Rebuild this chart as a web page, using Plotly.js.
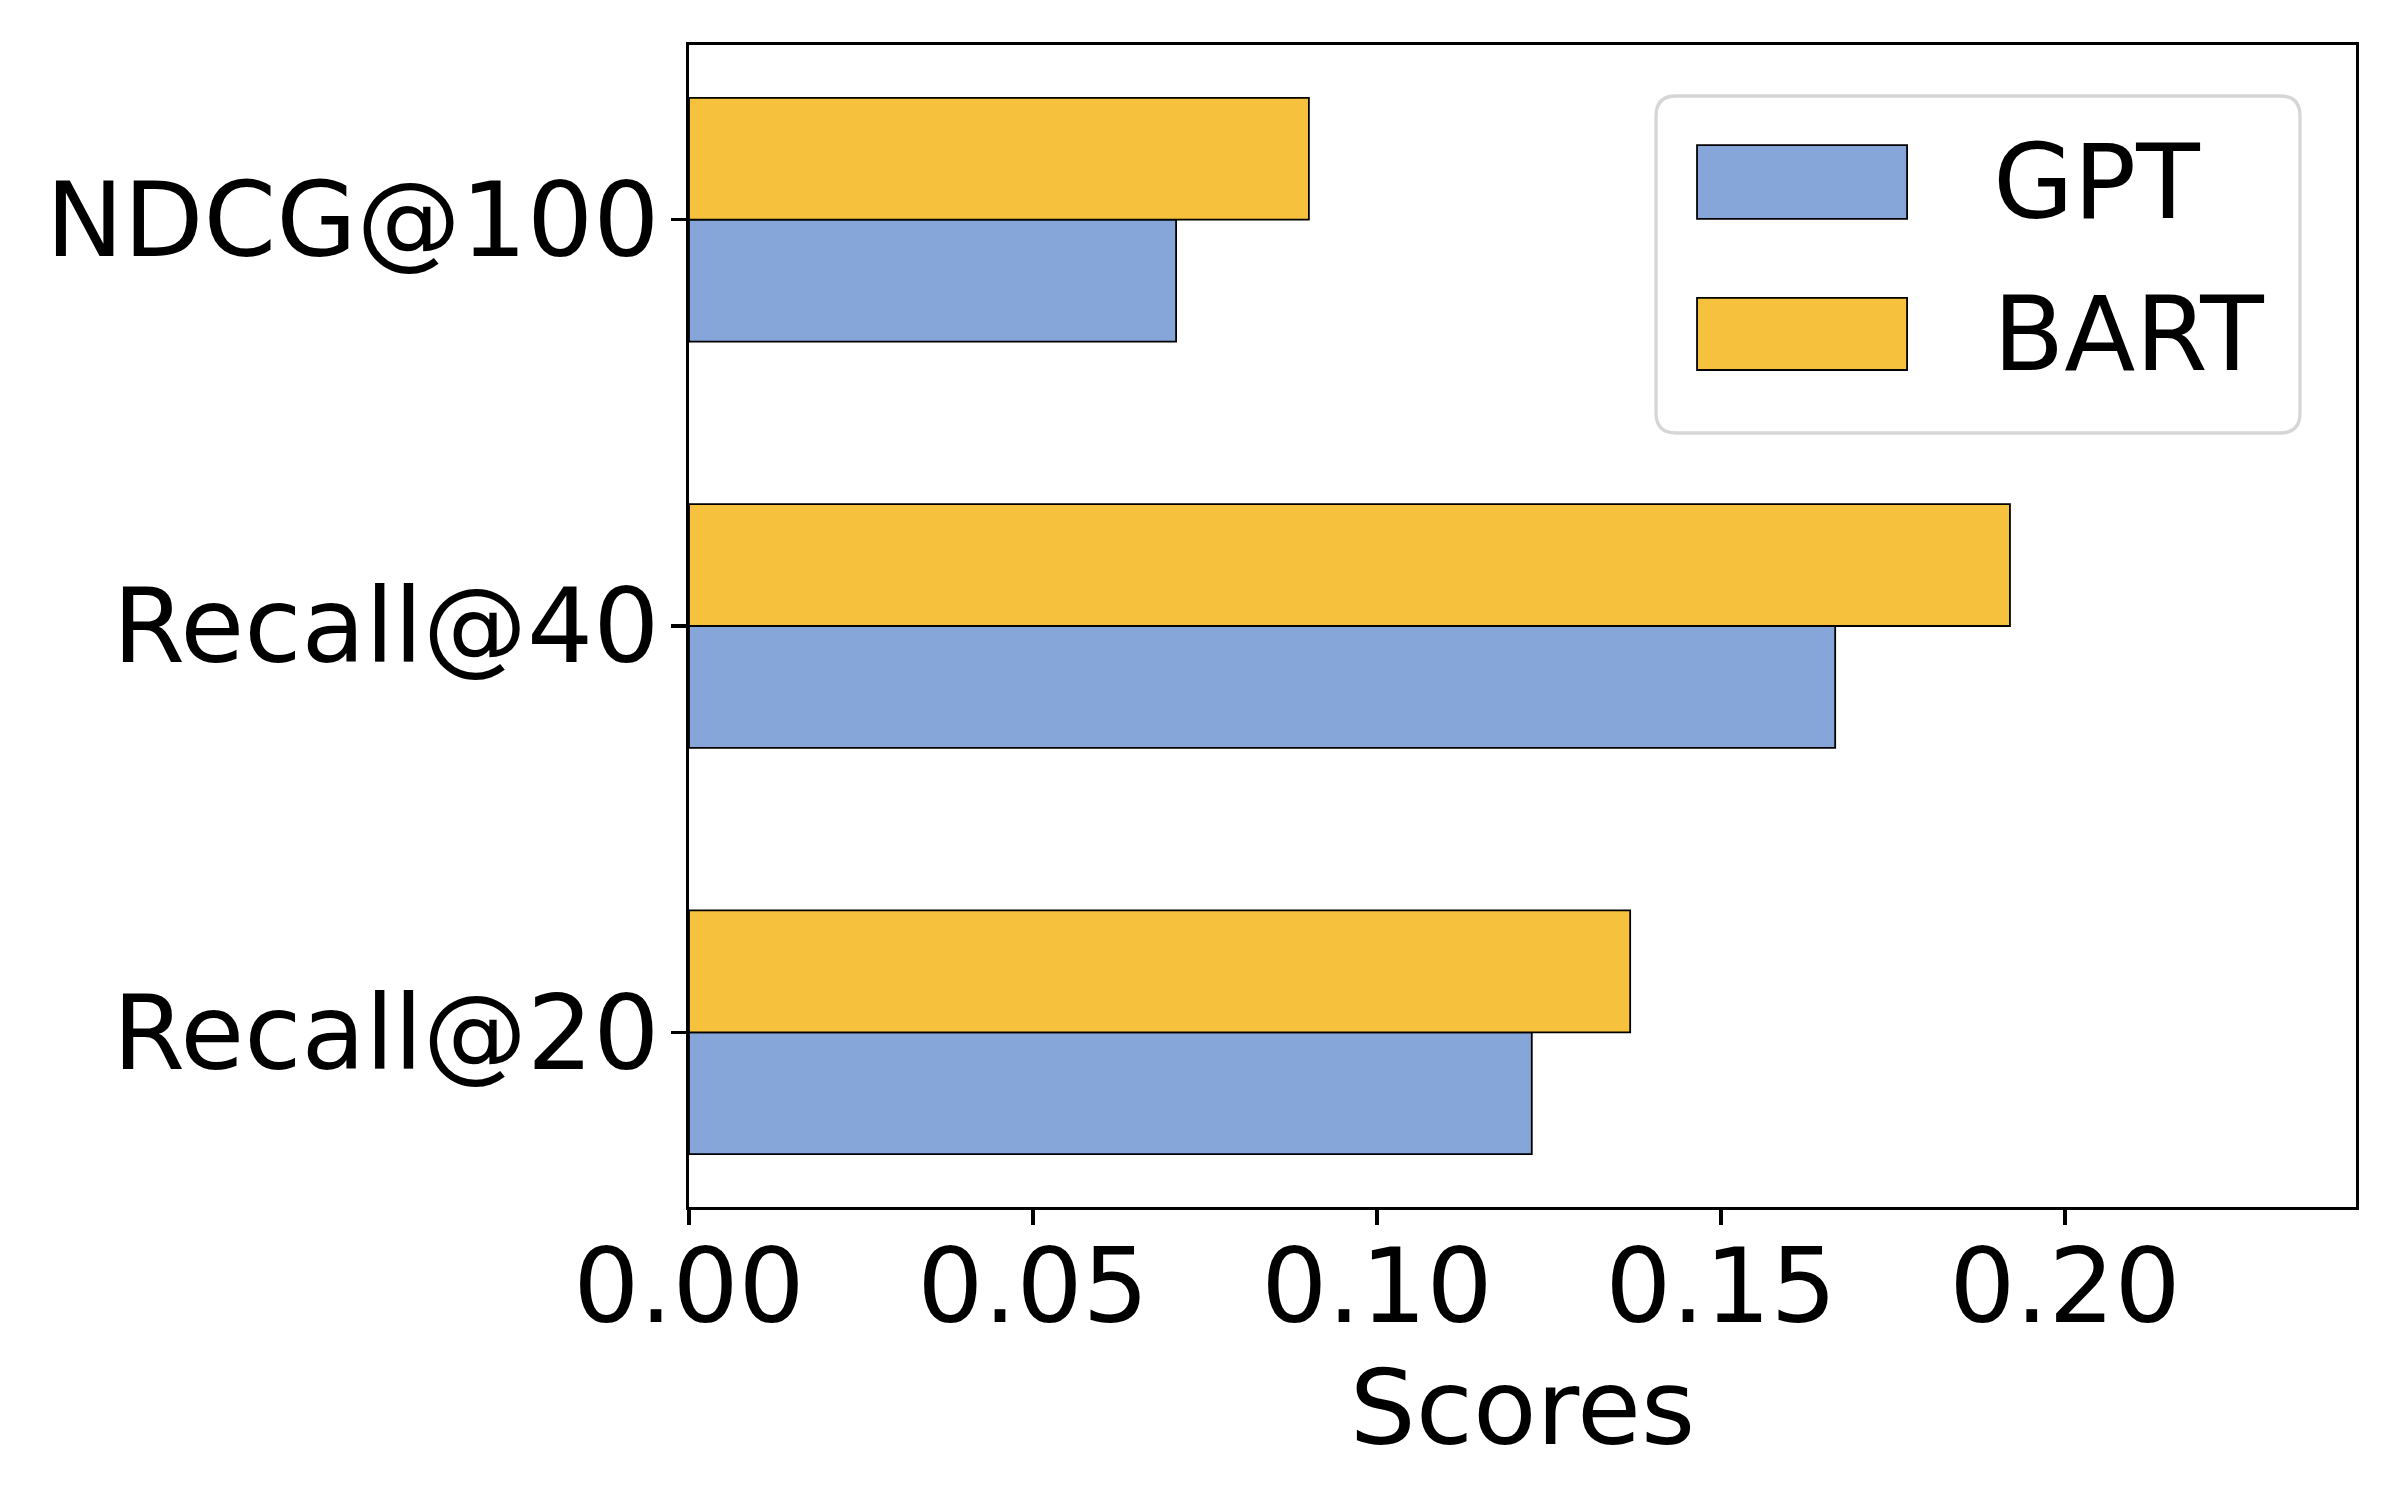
<!DOCTYPE html>
<html>
<head>
<meta charset="utf-8">
<script src="https://cdn.plot.ly/plotly-3.0.1.min.js"></script>
<style>html,body{margin:0;padding:0;background:#fff;}</style>
</head>
<body>
<div id="chart" style="width:2400px;height:1500px;"></div>
<script>
// ---- data ----
const categories = ["Recall@20", "Recall@40", "NDCG@100"];
const seriesNames = ["GPT", "BART"];
const gptScores = [0.1225, 0.1666, 0.0708];
const bartScores = [0.1368, 0.1920, 0.0901];
const xTickVals = [0, 0.05, 0.10, 0.15, 0.20];
const xTickText = ["0.00", "0.05", "0.10", "0.15", "0.20"];
const xLabel = "Scores";

// ---- styles ----
const FONT = "DejaVu Sans, Verdana, sans-serif";
const FS = 104;
const colors = ["#86a6d9", "#f6c23e"];
const LW = 3.3;

const traces = [
  {
    type: "bar", orientation: "h", name: seriesNames[0],
    y: categories, x: gptScores, width: 0.3, offset: -0.3,
    marker: {color: colors[0], line: {color: "#000", width: 1.8}},
    showlegend: false
  },
  {
    type: "bar", orientation: "h", name: seriesNames[1],
    y: categories, x: bartScores, width: 0.3, offset: 0,
    marker: {color: colors[1], line: {color: "#000", width: 1.8}},
    showlegend: false
  }
];

// manual legend (matplotlib-style large handles)
function roundRect(x0, y0, x1, y1, rx, ry) {
  return `M${x0+rx},${y0} L${x1-rx},${y0} Q${x1},${y0} ${x1},${y0+ry} L${x1},${y1-ry} Q${x1},${y1} ${x1-rx},${y1} L${x0+rx},${y1} Q${x0},${y1} ${x0},${y1-ry} L${x0},${y0+ry} Q${x0},${y0} ${x0+rx},${y0} Z`;
}
const legBox = {x0: 0.5801, x1: 0.9664, y0: 0.6661, y1: 0.9561};
const handleX = [0.6047, 0.7307];
const handleY = [[0.8503, 0.9139], [0.7203, 0.7823]];
const textY = [0.8821, 0.7513];

const shapes = [
  {type: "path", xref: "paper", yref: "paper",
   path: roundRect(legBox.x0, legBox.y0, legBox.x1, legBox.y1, 0.012, 0.0172),
   fillcolor: "rgba(255,255,255,0.8)", line: {color: "#d6d6d6", width: 3.3}, layer: "above"}
];
const annotations = [];
seriesNames.forEach((nm, i) => {
  shapes.push({type: "rect", xref: "paper", yref: "paper",
    x0: handleX[0], x1: handleX[1], y0: handleY[i][0], y1: handleY[i][1],
    fillcolor: colors[i], line: {color: "#000", width: 1.8}, layer: "above"});
  annotations.push({xref: "paper", yref: "paper", x: 0.7810, y: textY[i],
    xanchor: "left", yanchor: "middle", text: nm, showarrow: false,
    font: {family: FONT, size: FS, color: "#000"}});
});

const layout = {
  width: 2400, height: 1500,
  margin: {l: 689, r: 44, t: 45, b: 293, pad: 0},
  paper_bgcolor: "#fff", plot_bgcolor: "#fff",
  font: {family: FONT, size: FS, color: "#000"},
  barmode: "overlay",
  showlegend: false,
  xaxis: {
    range: [0, 0.2423], tickvals: xTickVals, ticktext: xTickText,
    ticks: "outside", ticklen: 14.6, tickwidth: LW, tickcolor: "#000",
    showline: true, linecolor: "#000", linewidth: LW, mirror: true,
    showgrid: false, zeroline: false,
    ticklabelstandoff: -28,
    tickfont: {family: FONT, size: FS, color: "#000"},
    title: {text: xLabel, font: {family: FONT, size: FS, color: "#000"}, standoff: 1},
    automargin: false
  },
  yaxis: {
    type: "category", categoryorder: "array", categoryarray: categories,
    range: [-0.43, 2.43],
    ticks: "outside", ticklen: 14.6, tickwidth: LW, tickcolor: "#000",
    showline: true, linecolor: "#000", linewidth: LW, mirror: true,
    showgrid: false, zeroline: false,
    ticklabelstandoff: -9,
    tickfont: {family: FONT, size: FS, color: "#000"},
    automargin: false
  },
  shapes: shapes,
  annotations: annotations
};

Plotly.newPlot("chart", traces, layout, {displayModeBar: false, staticPlot: true});
</script>
</body>
</html>
